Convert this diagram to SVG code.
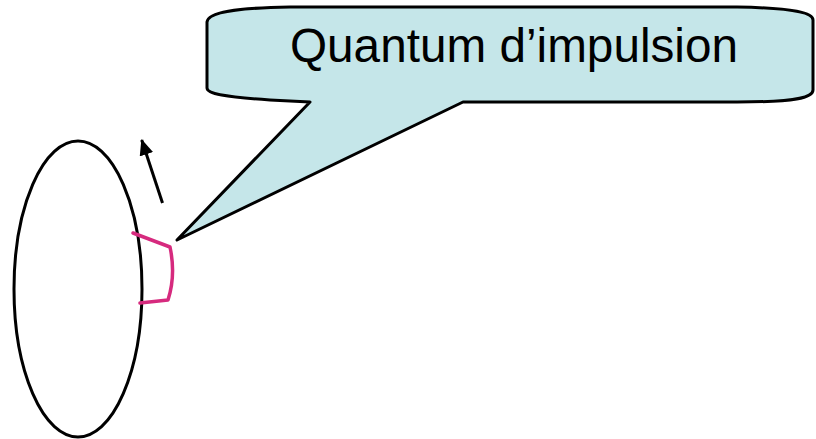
<svg xmlns="http://www.w3.org/2000/svg" width="816" height="439" viewBox="0 0 816 439">
<defs>
<style>
.k{fill:none;stroke:#000;stroke-width:3;stroke-linejoin:round}
.t{font-family:"Liberation Sans",Arial,sans-serif;font-size:47.5px;fill:#000}
</style>
<marker id="ah" viewBox="0 0 16 14" refX="15" refY="7" markerWidth="16" markerHeight="14" orient="auto" markerUnits="userSpaceOnUse">
<path d="M0,0 L16,7 L0,14 Z" fill="#000"/>
</marker>
</defs>
<rect width="816" height="439" fill="#fff"/>
<g id="disk">
<ellipse class="k" cx="78" cy="289" rx="64" ry="148"/>
</g>
<g id="patch">
<path d="M133,233 L170,247 Q176,275 168,300 L140,303" fill="none" stroke="#d62a7e" stroke-width="3.5" stroke-linejoin="round" stroke-linecap="round"/>
</g>
<g id="callout">
<path d="M207,22 C208,12 235,8 290,7 L737,7 C795,8 813,13 813,20 L813,90 C813,98 795,102 737,102 L463,102 L177,240 L310,102 L270,100 C225,97 207,94 207,88 Z" fill="#c5e6e9" stroke="#000" stroke-width="3" stroke-linejoin="round"/>
<text class="t" x="290" y="62" textLength="448" lengthAdjust="spacingAndGlyphs">Quantum d’impulsion</text>
</g>
<g id="connectors">
<line x1="162.5" y1="203" x2="141.7" y2="140" stroke="#000" stroke-width="3" marker-end="url(#ah)"/>
</g>
</svg>
